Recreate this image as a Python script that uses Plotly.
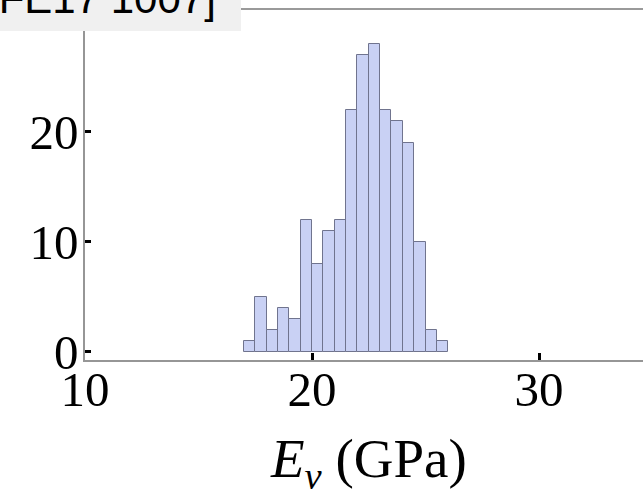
import plotly.graph_objects as go

# Histogram data (bin left edges, bin width 0.5 GPa) and counts
bin_left = [17.0, 17.5, 18.0, 18.5, 19.0, 19.5, 20.0, 20.5, 21.0,
            21.5, 22.0, 22.5, 23.0, 23.5, 24.0, 24.5, 25.0, 25.5]
counts = [1, 5, 2, 4, 3, 12, 8, 11, 12, 22, 27, 28, 22, 21, 19, 10, 2, 1]
bin_width = 0.5

x_ticks = [10, 20, 30]
y_ticks = [0, 10, 20, 30]
x_title = "<i>E</i><sub><i>v</i></sub> (GPa)"

fig = go.Figure()
fig.add_trace(go.Bar(
    x=bin_left, y=counts, width=bin_width, offset=0,
    marker=dict(color="rgb(201,209,244)",
                line=dict(color="rgb(112,116,142)", width=1)),
    showlegend=False,
))

W, H = 643, 489
ml, mr, mt, mb = 85, 0, 0, 129
pw, ph = W - ml - mr, H - mt - mb

serif = "Liberation Serif, Times New Roman, serif"

fig.update_layout(
    width=W, height=H,
    margin=dict(l=ml, r=mr, t=mt, b=mb, pad=0, autoexpand=False),
    paper_bgcolor="white", plot_bgcolor="white",
    bargap=0,
    font=dict(family=serif, size=49, color="black"),
    xaxis=dict(
        range=[10, 34.58], tickvals=x_ticks, ticktext=[str(v) for v in x_ticks],
        automargin=False,
        showgrid=False, zeroline=False, showline=True,
        linecolor="rgb(150,150,150)", linewidth=1.5,
        ticks="inside", ticklen=7, tickwidth=3, tickcolor="black",
        ticklabelstandoff=-15,
        tickfont=dict(family=serif, size=49, color="black"),
    ),
    yaxis=dict(
        range=[-0.74, 31.99], tickvals=y_ticks, ticktext=[str(v) for v in y_ticks],
        automargin=False,
        showgrid=False, zeroline=False, showline=True,
        linecolor="rgb(150,150,150)", linewidth=1.5,
        ticks="inside", ticklen=6, tickwidth=3, tickcolor="black",
        ticklabelstandoff=-5,
        tickfont=dict(family=serif, size=49, color="black"),
    ),
)

def px_x(p):
    return (p - ml) / pw

def px_y(p):
    return 1 - (p - mt) / ph

# x-axis title
fig.add_annotation(xref="paper", yref="paper", x=px_x(368), y=px_y(462),
                   xanchor="center", yanchor="middle", showarrow=False,
                   text=x_title,
                   font=dict(family=serif, size=55, color="black"))

# top frame line
fig.add_shape(type="line", xref="paper", yref="paper",
              x0=px_x(241), x1=px_x(643), y0=px_y(9), y1=px_y(9),
              line=dict(color="rgb(120,120,120)", width=1.5), layer="above")
# gray label box (partially cut off at top)
fig.add_shape(type="rect", xref="paper", yref="paper",
              x0=px_x(-5), x1=px_x(241), y0=px_y(31), y1=px_y(-5),
              fillcolor="rgb(240,240,240)", line=dict(width=0), layer="above")
fig.add_annotation(xref="paper", yref="paper", x=px_x(218), y=px_y(24),
                   xanchor="right", yanchor="bottom", showarrow=False,
                   text="[FE17 1007]",
                   font=dict(family="Liberation Sans, Arial, sans-serif",
                             size=42, color="black"))

fig.write_html("out.html", config={"displayModeBar": False},
               post_script="document.body.style.margin='0';")
